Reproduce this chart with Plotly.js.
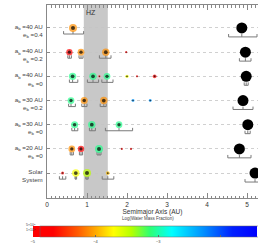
<!DOCTYPE html>
<html>
<head>
<meta charset="utf-8">
<script src="https://cdn.plot.ly/plotly-3.0.1.min.js"></script>
<style>html,body{margin:0;padding:0;background:#fff;}#chart{width:258px;height:245px;}</style>
</head>
<body>
<div id="chart"></div>
<script>
// ---- Data ----
const rowY = [7, 6, 5, 4, 3, 2, 1];
const rowLabels = [
  "a<sub>b</sub> =40 AU<br>e<sub>b</sub> =0.4",
  "a<sub>b</sub> =40 AU<br>e<sub>b</sub> =0.2",
  "a<sub>b</sub> =40 AU<br>e<sub>b</sub> =0",
  "a<sub>b</sub> =30 AU<br>e<sub>b</sub> =0.2",
  "a<sub>b</sub> =30 AU<br>e<sub>b</sub> =0",
  "a<sub>b</sub> =20 AU<br>e<sub>b</sub> =0",
  "Solar<br>System"
];
const planetRow  = [7, 6,6,6,6, 5,5,5,5,5,5,5, 4,4,4,4,4, 3,3,3, 2,2,2,2,2, 1,1,1,1];
const planetA    = [0.65, 0.56,0.85,1.47,1.98, 0.64,1.15,1.31,1.50,2.00,2.25,2.69, 0.60,0.93,1.42,2.15,2.58, 0.69,1.12,1.80, 0.62,0.85,1.30,1.87,2.10, 0.39,0.72,1.00,1.52];
const planetMass = [1.0, 0.5,0.6,0.8,0.02, 0.8,0.8,0.02,0.6,0.08,0.02,0.12, 0.6,0.7,0.8,0.05,0.05, 0.7,0.8,0.6, 0.6,0.5,1.0,0.02,0.02, 0.055,0.815,1.0,0.107];
const planetLogW = [-4.1, -4.8,-4.1,-4.1,-4.8, -3.07,-3.07,-4.8,-3.07,-3.68,-4.8,-4.8, -3.07,-4.1,-4.1,-2.32,-2.32, -3.07,-3.07,-3.07, -4.1,-4.8,-3.07,-4.8,-4.8, -4.8,-3.68,-3.46,-3.93];
const orbitLo    = [0.415, 0.52,0.80,1.31,null, 0.56,1.01,null,1.37,null,null,null, 0.54,0.87,1.33,null,null, 0.62,1.06,1.46, 0.58,0.81,1.25,null,null, 0.31,0.70,0.97,1.38];
const orbitHi    = [0.915, 0.61,0.90,1.60,null, 0.77,1.29,null,1.65,null,null,null, 0.71,1.00,1.48,null,null, 0.77,1.21,2.14, 0.66,0.89,1.35,null,null, 0.47,0.74,1.03,1.67];
const jupRow = [7, 6, 5, 4, 3, 2, 1];
const jupA   = [4.87, 4.96, 4.98, 4.90, 5.02, 4.81, 5.20];
const jupLo  = [4.54, 4.81, 4.93, 4.65, 4.95, 4.52, 4.95];
const jupHi  = [5.25, 5.10, 5.03, 5.15, 5.08, 5.10, 5.45];
const hzRange = [0.92, 1.52];
const xTicks = [0, 1, 2, 3, 4, 5];
const cbTicks = [-5, -4, -3, -2];
const cbRange = [-5, -1.43];

// ---- Styles ----
const FONT = "Liberation Sans, Arial, sans-serif";
const colorscale = [
  [0.00, "#ff0000"], [0.09, "#ff0000"], [0.20, "#ff5a00"], [0.28, "#ffaa00"],
  [0.36, "#ffff00"], [0.44, "#b4ff00"], [0.52, "#30ff70"], [0.62, "#00ffff"],
  [0.76, "#0090ff"], [0.89, "#0020ff"], [1.00, "#0000ff"]
];
const dP = 0.25, hP = 0.12, dJ = 0.37, hJ = 0.12;

function bracketPath(xs, lo, hi, ys, d, h) {
  const bx = [], by = [];
  for (let i = 0; i < xs.length; i++) {
    if (lo[i] === null) continue;
    const y0 = ys[i] - d;
    bx.push(lo[i], lo[i], hi[i], hi[i], null, xs[i], xs[i], null);
    by.push(y0 + h, y0, y0, y0 + h, null, y0, y0 + h, null);
  }
  return {bx, by};
}
const pb = bracketPath(planetA, orbitLo, orbitHi, planetRow, dP, hP);
const jb = bracketPath(jupA, jupLo, jupHi, jupRow, dJ, hJ);
const sizes = planetMass.map(m => 8 * Math.cbrt(m));

const traces = [
  {x: pb.bx, y: pb.by, mode: "lines", line: {color: "#7a7a7a", width: 1}, hoverinfo: "skip", showlegend: false},
  {x: jb.bx, y: jb.by, mode: "lines", line: {color: "#7a7a7a", width: 1}, hoverinfo: "skip", showlegend: false},
  {x: planetA, y: planetRow, mode: "markers", showlegend: false,
   marker: {size: sizes, color: planetLogW, colorscale: colorscale, cmin: cbRange[0], cmax: cbRange[1],
     line: {width: 0}, showscale: true,
     colorbar: {orientation: "h", xref: "container", yref: "container", x: 40/258, xanchor: "left",
       y: (245-226)/245, yanchor: "top", len: 224, lenmode: "pixels", thickness: 11, thicknessmode: "pixels",
       outlinewidth: 0.5, outlinecolor: "#666", tickvals: cbTicks, ticks: "inside", ticklen: 2,
       tickcolor: "#666", tickfont: {size: 4, color: "#444", family: FONT}, xpad: 0, ypad: 0}}},
  {x: planetA, y: planetRow, mode: "markers", showlegend: false,
   marker: {size: sizes.map(s => s * 0.5), color: "#000", line: {width: 0}}},
  {x: jupA, y: jupRow, mode: "markers", showlegend: false,
   marker: {size: 11, color: "#000", line: {width: 0}}}
];

const layout = {
  width: 258, height: 245,
  margin: {l: 47, r: 0, t: 5, b: 47, autoexpand: false},
  paper_bgcolor: "#fff", plot_bgcolor: "#fff",
  font: {family: FONT, color: "#333"},
  showlegend: false,
  xaxis: {range: [0, 5.275], tickvals: xTicks, showgrid: false, zeroline: false,
    showline: true, linecolor: "#888", linewidth: 1, mirror: "allticks",
    ticks: "inside", ticklen: 5, tickcolor: "#888", tickfont: {size: 6.5, color: "#333"},
    minor: {dtick: 0.1, ticks: "inside", ticklen: 2.5, tickcolor: "#888", showgrid: false},
    title: {text: "Semimajor Axis (AU)", font: {size: 6.5, color: "#333"}, standoff: 2}},
  yaxis: {range: [-0.03, 7.95], tickvals: rowY, ticktext: rowLabels, showgrid: true,
    gridcolor: "#c4c4c4", griddash: "dot", gridwidth: 0.8, zeroline: false,
    showline: true, linecolor: "#888", linewidth: 1,
    ticks: "inside", ticklen: 3, tickcolor: "#888", ticklabelstandoff: 2, ticklabelshift: 3,
    tickfont: {size: 6.2, color: "#444"}},
  shapes: [{type: "rect", xref: "x", yref: "paper", x0: hzRange[0], x1: hzRange[1], y0: 0, y1: 1,
    fillcolor: "#c8c8c8", line: {width: 0}, layer: "below"}],
  annotations: [
    {text: "HZ", x: 1.1, y: 7.66, xref: "x", yref: "y", showarrow: false, font: {size: 7, color: "#333"}},
    {text: "Log(Water Mass Fraction)", xref: "paper", yref: "paper", x: (148-47)/211, y: (198-223)/193,
     showarrow: false, font: {size: 4.5, color: "#444"}},
    {text: "5×10<sup>5</sup>", xref: "paper", yref: "paper", x: (38-47)/211, y: (198-229)/193, xanchor: "right",
     showarrow: false, font: {size: 3.5, color: "#444"}},
    {text: "1×10<sup>5</sup>", xref: "paper", yref: "paper", x: (38-47)/211, y: (198-234)/193, xanchor: "right",
     showarrow: false, font: {size: 3.5, color: "#444"}}
  ]
};

Plotly.newPlot("chart", traces, layout, {staticPlot: true, displayModeBar: false});
</script>
</body>
</html>
